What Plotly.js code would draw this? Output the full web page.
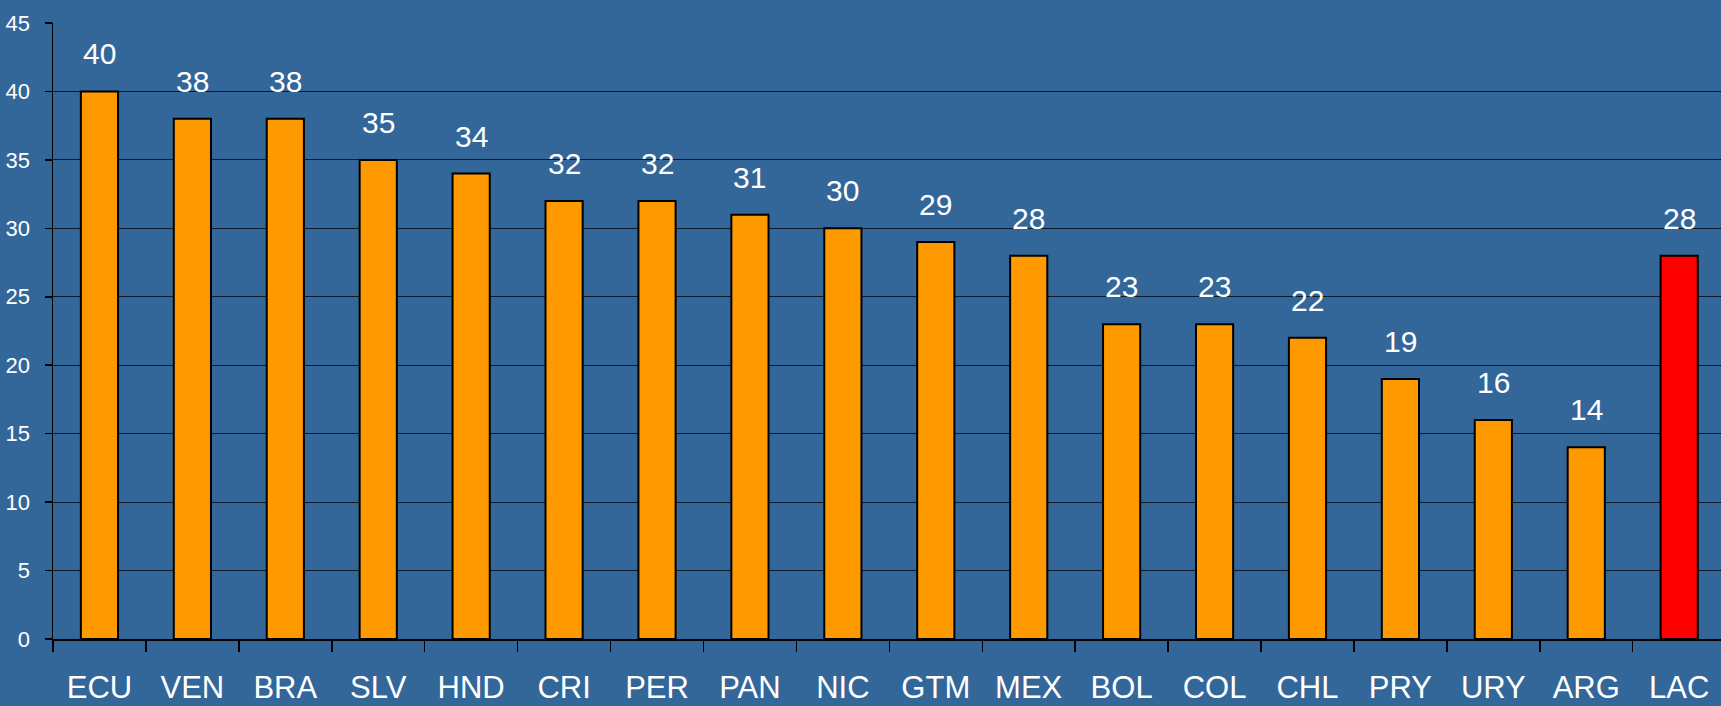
<!DOCTYPE html>
<html>
<head>
<meta charset="utf-8">
<script src="https://cdn.plot.ly/plotly-3.0.1.min.js"></script>
<style>
html,body{margin:0;padding:0;background:#336699;}
#chart{width:1721px;height:706px;}
</style>
</head>
<body>
<div id="chart"></div>
<script>
const categories = ["ECU","VEN","BRA","SLV","HND","CRI","PER","PAN","NIC","GTM","MEX","BOL","COL","CHL","PRY","URY","ARG","LAC"];
const values = [40,38,38,35,34,32,32,31,30,29,28,23,23,22,19,16,14,28];
const highlight = "LAC";
const yTicks = [0,5,10,15,20,25,30,35,40,45];

const FONT = '"Liberation Sans Narrow", "Arial Narrow", "Liberation Sans", Arial, sans-serif';
const colors = categories.map(c => c === highlight ? "#FF0000" : "#FF9900");

const trace = {
  type: "bar",
  x: categories,
  y: values,
  marker: {color: colors, line: {color: "#000000", width: 2}},
  hoverinfo: "x+y"
};

const annotations = categories.map((c, i) => ({
  x: c, y: values[i], xref: "x", yref: "y",
  text: String(values[i]),
  showarrow: false, yanchor: "bottom", yshift: 19,
  font: {family: FONT, size: 30, color: "#ffffff"}
}));

const layout = {
  width: 1721, height: 706,
  paper_bgcolor: "#336699",
  plot_bgcolor: "#336699",
  margin: {l: 53, r: 0, t: 23, b: 67, pad: 0},
  bargap: 0.6,
  showlegend: false,
  xaxis: {
    type: "category",
    range: [-0.5, 17.45],
    showgrid: false,
    showline: true, linecolor: "#000000", linewidth: 1.5,
    ticks: "outside", tickson: "boundaries", ticklen: 11, tickcolor: "#000000", tickwidth: 1.5,
    ticklabelstandoff: 20,
    tickfont: {family: FONT, size: 31, color: "#ffffff"},
    zeroline: false,
    fixedrange: true
  },
  yaxis: {
    range: [0, 45],
    tickvals: yTicks,
    ticktext: yTicks.map(String),
    showgrid: true, gridcolor: "#0d1a2a", gridwidth: 1,
    showline: true, linecolor: "#000000", linewidth: 1.5,
    ticks: "outside", ticklen: 7, tickcolor: "#000000", tickwidth: 1.5,
    ticklabelstandoff: 10,
    tickfont: {family: FONT, size: 22, color: "#ffffff"},
    zeroline: false,
    fixedrange: true
  },
  annotations: annotations
};

Plotly.newPlot("chart", [trace], layout, {displayModeBar: false, staticPlot: true});
</script>
</body>
</html>
